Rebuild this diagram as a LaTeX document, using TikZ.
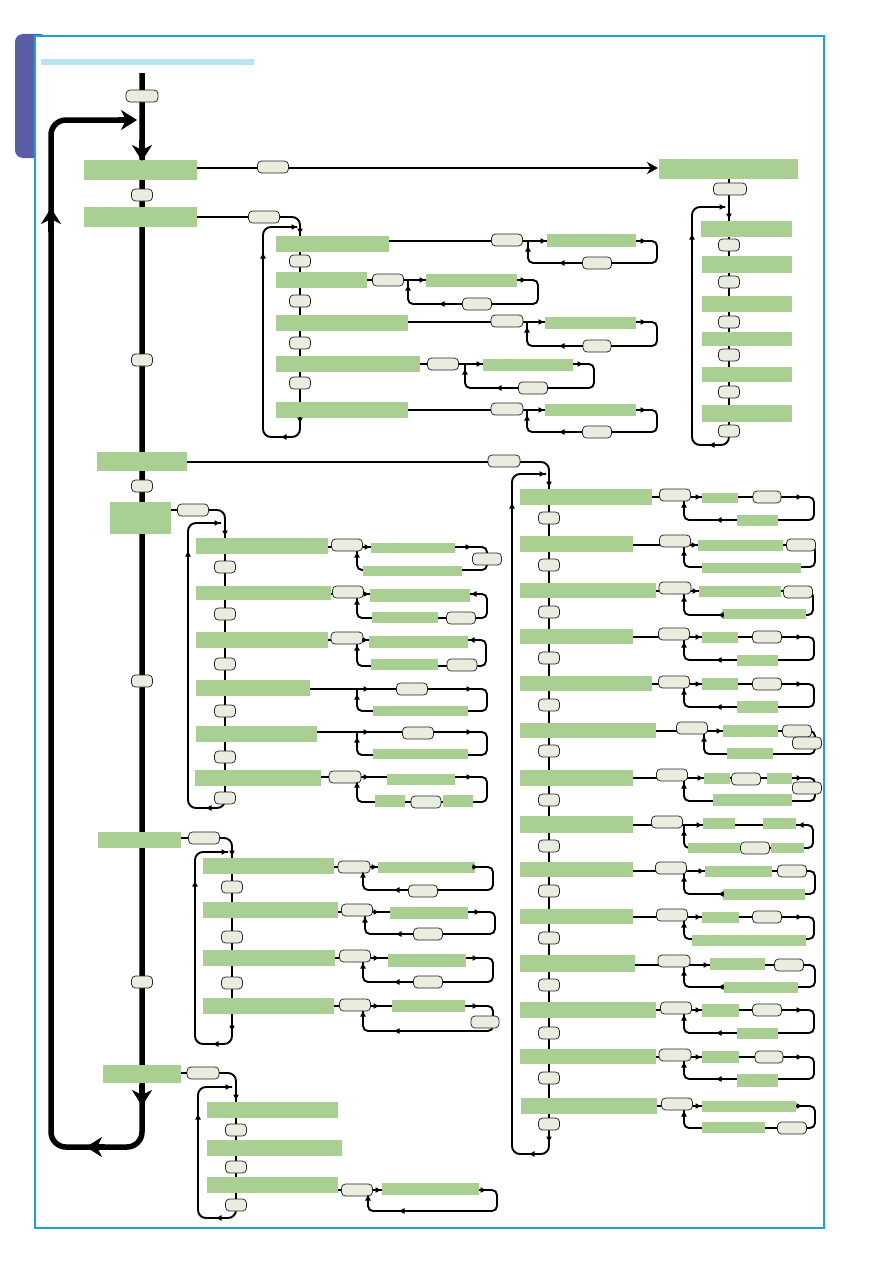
\documentclass[tikz,border=0pt]{standalone}
\usetikzlibrary{arrows.meta}
\definecolor{gr}{RGB}{170,207,146}
\definecolor{pf}{RGB}{232,237,223}
\definecolor{fr}{RGB}{28,160,218}
\definecolor{tabc}{RGB}{91,94,166}
\definecolor{barc}{RGB}{184,228,244}
\tikzset{
 gbox/.style={rectangle,fill=gr,draw=none,inner sep=0pt,outer sep=0pt},
 pill/.style={rectangle,rounded corners=4pt,fill=pf,draw=black!85,line width=0.75pt,minimum height=12,inner sep=0pt,outer sep=0pt},
 ln/.style={line width=1.9pt},
 tipa/.style={-{Latex[length=6.5pt,width=6pt]},line width=1.3pt},
 bigarrow/.style={line width=5.5pt,-{Stealth[length=16pt,width=20pt,inset=5pt]}}
}
\newcommand\gbx[5]{\node[gbox,minimum width={#4-#2},minimum height={#5-#3}] (#1) at ({(#2+#4)/2},{(#3+#5)/2}) {};}
\newcommand\pil[4]{\node[pill,minimum width=#4] (#1) at (#2,#3) {};}
\newcommand\subl[5]{\draw[ln,rounded corners=5pt] (#1,#2) -- (#4,#2) -- (#4,#5) -- (#3,#5) -- (#3,{#2+1});}
\newcommand\aR[2]{\draw[tipa] ({#1-7},#2) -- (#1,#2);}
\newcommand\aL[2]{\draw[tipa] ({#1+7},#2) -- (#1,#2);}
\newcommand\aU[2]{\draw[tipa] (#1,{#2+7}) -- (#1,#2);}
\newcommand\aD[2]{\draw[tipa] (#1,{#2-7}) -- (#1,#2);}
\begin{document}
\begin{tikzpicture}[x=1pt,y=-1pt]
\useasboundingbox (0,0) rectangle (893,1263);
% page decoration
\fill[tabc,rounded corners=8pt] (15,34) rectangle (48,158);
\fill[white] (36,37) rectangle (823,1227);
\draw[fr,line width=2.2pt] (35,36) rectangle (824,1228);
\fill[barc] (41,59) rectangle (254,65);

% ===== lines =====
\draw[line width=5.5pt,rounded corners=15pt] (142,73) -- (142,1147) -- (51,1147) -- (51,120) -- (125,120);
\draw[line width=2.4pt,-{Stealth[length=11pt,width=12pt]}] (197,168) -- (658,168);
% spines
\draw[ln,rounded corners=8pt] (197,217) -- (300,217) -- (300,437) -- (263,437) -- (263,227) -- (297,227);
\draw[ln,rounded corners=8pt] (187,462) -- (549,462) -- (549,1154) -- (512,1154) -- (512,474) -- (546,474);
\draw[ln,rounded corners=8pt] (171,510) -- (225,510) -- (225,808) -- (188,808) -- (188,523) -- (221,523);
\draw[ln,rounded corners=8pt] (181,838) -- (232,838) -- (232,1044) -- (195,1044) -- (195,852) -- (228,852);
\draw[ln,rounded corners=8pt] (181,1073) -- (236,1073) -- (236,1218) -- (198,1218) -- (198,1087) -- (232,1087);
\draw[ln,rounded corners=8pt] (729,179) -- (729,445) -- (692,445) -- (692,207) -- (725,207);
% sub loops
\subl{389}{241}{528}{657}{263}
\subl{367}{280}{408}{538}{304}
\subl{408}{322}{527}{657}{346}
\subl{420}{364}{465}{594}{388}
\subl{408}{410}{527}{657}{432}
\subl{652}{497}{684}{814}{520}
\subl{633}{545}{684}{815}{567}
\subl{656}{591}{684}{813}{615}
\subl{633}{637}{684}{814}{660}
\subl{652}{684}{684}{814}{707}
\subl{656}{731}{704}{815}{754}
\subl{633}{778}{684}{815}{801}
\subl{633}{825}{684}{813}{848}
\subl{633}{871}{684}{815}{894}
\subl{633}{917}{684}{814}{939}
\subl{635}{965}{684}{815}{987}
\subl{656}{1010}{684}{814}{1033}
\subl{656}{1057}{684}{814}{1079}
\subl{657}{1106}{684}{815}{1128}
\subl{328}{547}{357}{487}{570}
\subl{331}{594}{357}{487}{618}
\subl{328}{640}{357}{486}{666}
\subl{310}{689}{357}{487}{711}
\subl{317}{732}{357}{487}{755}
\subl{321}{777}{357}{487}{802}
\subl{334}{867}{363}{493}{890}
\subl{338}{912}{365}{495}{934}
\subl{335}{958}{363}{493}{982}
\subl{334}{1006}{363}{493}{1031}
\subl{338}{1190}{368}{497}{1211}

% ===== main boxes =====
\gbx{a1}{84}{160}{197}{180}
\gbx{a2}{84}{207}{197}{227}
\gbx{a3}{97}{452}{187}{471}
\gbx{a4}{110}{502}{171}{534}
\gbx{a5}{98}{832}{181}{848}
\gbx{a6}{103}{1065}{181}{1083}
\gbx{r0}{659}{159}{798}{179}
\pil{t0}{142}{96}{32}
\pil{t1}{142}{195}{21}
\pil{t2}{142}{360}{21}
\pil{t3}{142}{486}{21}
\pil{t4}{142}{681}{21}
\pil{t5}{142}{982}{21}
\pil{pa1}{273}{167}{31}
\pil{pa2}{264}{217}{31}
\pil{pa3}{504}{461}{32}
\pil{pa4}{193}{510}{31}
\pil{pa5}{204}{838}{31}
\pil{pa6}{203}{1073}{32}
\pil{pr0}{730}{189}{33}
% R column
\gbx{r1}{701}{221}{792}{237}
\gbx{r2}{702}{256}{792}{273}
\gbx{r3}{702}{296}{792}{312}
\gbx{r4}{702}{332}{792}{346}
\gbx{r5}{702}{367}{792}{382}
\gbx{r6}{702}{405}{792}{422}
\pil{rp1}{729}{245}{21}
\pil{rp2}{729}{282}{21}
\pil{rp3}{729}{322}{21}
\pil{rp4}{729}{355}{21}
\pil{rp5}{729}{392}{21}
\pil{rp6}{729}{431}{21}
% B column
\gbx{b1}{276}{236}{389}{252}
\gbx{b2}{276}{272}{367}{288}
\gbx{b3}{276}{315}{408}{331}
\gbx{b4}{276}{356}{420}{372}
\gbx{b5}{276}{402}{408}{418}
\pil{bs1}{300}{261}{21}
\pil{bs2}{300}{301}{21}
\pil{bs3}{300}{343}{21}
\pil{bs4}{300}{383}{21}
\pil{b1p}{507}{240}{31}\gbx{b1a}{547}{234}{636}{247}\pil{b1q}{597}{263}{29}
\pil{b2p}{388}{280}{31}\gbx{b2a}{426}{274}{517}{287}\pil{b2q}{477}{304}{29}
\pil{b3p}{507}{321}{32}\gbx{b3a}{545}{317}{636}{329}\pil{b3q}{597}{346}{28}
\pil{b4p}{443}{364}{31}\gbx{b4a}{483}{359}{573}{371}\pil{b4q}{533}{388}{29}
\pil{b5p}{507}{409}{32}\gbx{b5a}{545}{404}{636}{416}\pil{b5q}{597}{432}{29}
% C column
\gbx{c1}{520}{489}{652}{505}
\gbx{c2}{520}{536}{633}{552}
\gbx{c3}{520}{583}{656}{598}
\gbx{c4}{520}{629}{633}{644}
\gbx{c5}{520}{676}{652}{691}
\gbx{c6}{520}{723}{656}{738}
\gbx{c7}{520}{770}{633}{786}
\gbx{c8}{520}{816}{633}{833}
\gbx{c9}{520}{862}{633}{877}
\gbx{c10}{520}{909}{633}{924}
\gbx{c11}{520}{955}{635}{972}
\gbx{c12}{520}{1002}{656}{1018}
\gbx{c13}{520}{1049}{656}{1064}
\gbx{c14}{521}{1098}{657}{1114}
\foreach \yy [count=\i] in {518,565,612,658,705,751,800,846,891,938,985,1033,1078,1124}{\pil{cs\i}{549}{\yy}{21}}
\pil{c1p}{675}{495}{31}\gbx{c1a}{702}{493}{738}{503}\pil{c1q}{767}{497}{28}\gbx{c1b}{737}{515}{778}{526}
\pil{c2p}{675}{541}{31}\gbx{c2a}{698}{540}{783}{551}\pil{c2q}{801}{545}{29}\gbx{c2b}{702}{563}{801}{573}
\pil{c3p}{675}{588}{32}\gbx{c3a}{699}{586}{781}{597}\pil{c3q}{798}{592}{29}\gbx{c3b}{722}{609}{806}{619}
\pil{c4p}{674}{634}{31}\gbx{c4a}{702}{632}{738}{643}\pil{c4q}{767}{637}{29}\gbx{c4b}{737}{655}{778}{666}
\pil{c5p}{674}{682}{31}\gbx{c5a}{702}{678}{738}{690}\pil{c5q}{767}{684}{29}\gbx{c5b}{737}{701}{778}{713}
\pil{c6p}{692}{728}{31}\gbx{c6a}{723}{725}{778}{737}\pil{c6q}{797}{731}{29}\pil{c6r}{807}{743}{29}\gbx{c6b}{727}{748}{773}{759}
\pil{c7p}{672}{775}{31}\gbx{c7a}{704}{773}{730}{784}\pil{c7q}{746}{779}{29}\gbx{c7b}{767}{773}{792}{784}\pil{c7r}{807}{788}{29}\gbx{c7c}{713}{794}{792}{806}
\pil{c8p}{667}{822}{31}\gbx{c8a}{703}{818}{735}{829}\gbx{c8b}{763}{818}{796}{829}\gbx{c8c}{688}{843}{740}{853}\pil{c8q}{755}{848}{29}\gbx{c8d}{771}{843}{804}{853}
\pil{c9p}{671}{868}{31}\gbx{c9a}{705}{866}{772}{877}\pil{c9q}{792}{871}{29}\gbx{c9b}{723}{889}{805}{900}
\pil{c10p}{672}{915}{31}\gbx{c10a}{702}{912}{739}{923}\pil{c10q}{767}{917}{29}\gbx{c10b}{692}{935}{806}{946}
\pil{c11p}{674}{961}{32}\gbx{c11a}{710}{958}{765}{970}\pil{c11q}{789}{965}{29}\gbx{c11b}{724}{982}{798}{993}
\pil{c12p}{676}{1008}{31}\gbx{c12a}{702}{1004}{739}{1017}\pil{c12q}{767}{1010}{29}\gbx{c12b}{737}{1028}{778}{1039}
\pil{c13p}{675}{1055}{32}\gbx{c13a}{702}{1051}{739}{1063}\pil{c13q}{769}{1057}{28}\gbx{c13b}{737}{1074}{778}{1087}
\pil{c14p}{677}{1104}{31}\gbx{c14a}{702}{1101}{796}{1112}\gbx{c14b}{702}{1122}{765}{1133}\pil{c14q}{792}{1128}{29}
% D column
\gbx{d1}{196}{538}{328}{554}
\gbx{d2}{196}{586}{331}{600}
\gbx{d3}{196}{632}{328}{648}
\gbx{d4}{196}{680}{310}{696}
\gbx{d5}{196}{726}{317}{742}
\gbx{d6}{195}{770}{321}{786}
\foreach \yy [count=\i] in {567,614,664,711,757,798}{\pil{ds\i}{225}{\yy}{21}}
\pil{d1p}{347}{545}{31}\gbx{d1a}{371}{543}{455}{553}\pil{d1q}{487}{559}{29}\gbx{d1b}{363}{566}{462}{576}
\pil{d2p}{348}{592}{31}\gbx{d2a}{370}{589}{470}{602}\gbx{d2b}{372}{612}{438}{623}\pil{d2q}{461}{618}{29}
\pil{d3p}{347}{638}{32}\gbx{d3a}{369}{636}{468}{648}\gbx{d3b}{371}{659}{438}{670}\pil{d3q}{462}{665}{30}
\pil{d4p}{412}{689}{31}\gbx{d4b}{373}{706}{468}{716}
\pil{d5p}{418}{733}{31}\gbx{d5b}{373}{749}{468}{759}
\pil{d6p}{345}{777}{32}\gbx{d6a}{387}{774}{455}{785}\gbx{d6b}{375}{795}{405}{807}\pil{d6q}{426}{802}{30}\gbx{d6c}{443}{795}{473}{807}
% E column
\gbx{e1}{203}{858}{334}{874}
\gbx{e2}{203}{902}{338}{918}
\gbx{e3}{203}{950}{335}{966}
\gbx{e4}{203}{998}{334}{1014}
\foreach \yy [count=\i] in {887,937,983}{\pil{es\i}{232}{\yy}{21}}
\pil{e1p}{354}{867}{32}\gbx{e1a}{378}{862}{475}{873}\pil{e1q}{423}{891}{29}
\pil{e2p}{357}{910}{31}\gbx{e2a}{390}{907}{468}{919}\pil{e2q}{428}{934}{29}
\pil{e3p}{355}{956}{31}\gbx{e3a}{388}{954}{466}{967}\pil{e3q}{428}{982}{29}
\pil{e4p}{355}{1005}{31}\gbx{e4a}{392}{1000}{465}{1012}\pil{e4q}{485}{1022}{28}
% F column
\gbx{f1}{207}{1102}{338}{1118}
\gbx{f2}{207}{1140}{342}{1156}
\gbx{f3}{207}{1177}{338}{1193}
\foreach \yy [count=\i] in {1130,1167,1205}{\pil{fs\i}{236}{\yy}{21}}
\pil{f3p}{357}{1190}{31}\gbx{f3a}{382}{1183}{479}{1195}

% ===== arrow tips =====
\draw[bigarrow] (142,140) -- (142,161);
\draw[bigarrow] (142,1085) -- (142,1106);
\draw[bigarrow] (51,232) -- (51,208);
\draw[bigarrow] (105,1147) -- (86,1147);
\draw[bigarrow] (118,120) -- (137,120);
% spines
\aD{300}{235}\aR{298}{227}\aU{263}{252}\aL{280}{437}\aD{300}{424}
\aD{549}{488}\aR{546}{474}\aU{512}{502}\aL{528}{1154}\aD{549}{1143}
\aD{225}{537}\aR{221}{523}\aU{188}{550}\aL{205}{808}
\aD{232}{857}\aR{228}{852}\aU{195}{880}\aL{212}{1044}\aD{232}{1032}
\aD{236}{1101}\aR{232}{1087}\aU{198}{1113}\aL{215}{1218}
\aD{729}{220}\aR{726}{207}\aU{692}{233}\aL{708}{445}
% sub loops
\aR{547}{241}\aR{647}{241}\aL{558}{263}\aU{528}{245}
\aR{426}{280}\aR{527}{280}\aL{438}{304}\aU{408}{284}
\aR{545}{322}\aR{647}{322}\aL{558}{346}\aU{527}{326}
\aR{483}{364}\aR{584}{364}\aL{495}{388}\aU{465}{368}
\aR{545}{410}\aR{647}{410}\aL{558}{432}\aU{527}{414}
\aR{702}{497}\aR{803}{497}\aL{715}{520}\aU{684}{501}
\aR{698}{545}\aU{684}{549}
\aR{699}{591}\aL{717}{615}\aU{684}{595}
\aR{702}{637}\aR{803}{637}\aL{715}{660}\aU{684}{641}
\aR{702}{684}\aR{803}{684}\aL{715}{707}\aU{684}{688}
\aR{723}{731}\aU{704}{735}
\aR{704}{778}\aR{803}{778}\aU{684}{782}
\aR{703}{825}\aL{797}{825}\aU{684}{829}
\aR{705}{871}\aL{717}{894}\aU{684}{875}
\aR{702}{917}\aR{803}{917}\aU{684}{921}
\aR{710}{965}\aL{717}{987}\aU{684}{969}
\aR{702}{1010}\aR{803}{1010}\aL{715}{1033}\aU{684}{1014}
\aR{702}{1057}\aR{803}{1057}\aL{715}{1079}\aU{684}{1061}
\aR{702}{1106}\aR{803}{1106}\aU{684}{1110}
\aR{371}{547}\aR{472}{547}\aU{357}{551}
\aR{370}{594}\aL{470}{594}\aU{357}{598}
\aR{369}{640}\aL{468}{640}\aU{357}{644}
\aR{370}{689}\aR{473}{689}\aU{357}{693}
\aR{370}{732}\aR{473}{732}\aU{357}{736}
\aR{370}{777}\aR{473}{777}\aU{357}{781}
\aR{378}{867}\aR{479}{867}\aL{393}{890}\aU{363}{871}
\aR{380}{912}\aR{481}{912}\aL{395}{934}\aU{365}{916}
\aR{380}{958}\aR{479}{958}\aL{393}{982}\aU{363}{962}
\aR{380}{1006}\aR{479}{1006}\aL{393}{1031}\aU{363}{1010}
\aR{382}{1190}\aR{487}{1190}\aL{398}{1211}\aU{368}{1194}
\end{tikzpicture}
\end{document}
